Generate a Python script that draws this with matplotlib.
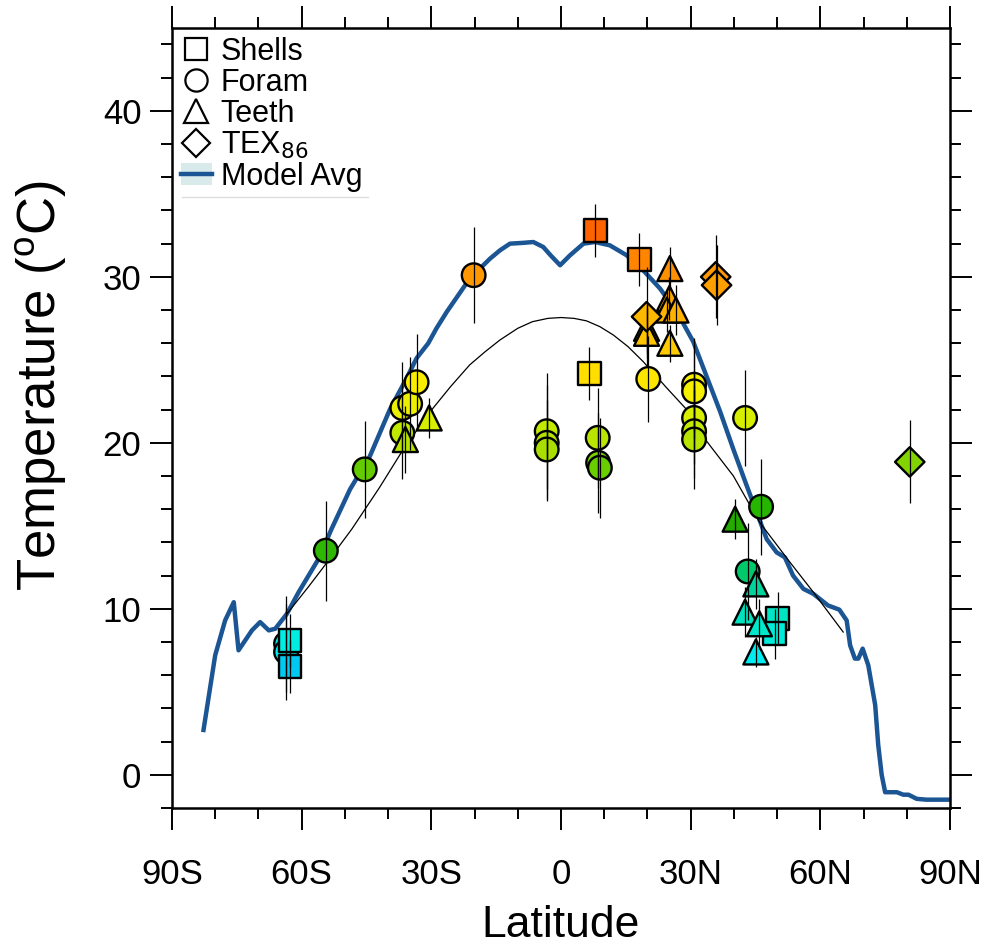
import numpy as np
import matplotlib.pyplot as plt
from matplotlib.colors import LinearSegmentedColormap, Normalize
from matplotlib.lines import Line2D
from matplotlib.patches import Patch

plt.rcParams["font.family"] = ["Liberation Sans", "DejaVu Sans"]

# zonal mean of the model ensemble
model_lat = [-82.7, -80.0, -77.7, -75.7, -74.6, -71.5, -69.6, -67.6, -66.1, -63.4,
             -60.7, -56.1, -53.1, -48.8, -44.2, -39.6, -35.7, -33.4, -30.7, -28.8,
             -26.4, -21.1, -16.4, -14.1, -11.8, -8.7, -6.4, -4.1, -2.4, -0.2,
             2.1, 5.2, 7.9, 11.3, 15.2, 19.0, 22.9, 26.8, 30.6, 33.7,
             36.8, 39.9, 43.0, 45.3, 47.6, 49.9, 51.8, 53.7, 56.1, 58.4,
             61.8, 64.4, 66.1, 66.9, 68.0, 68.8, 69.8, 71.1, 72.7, 73.4,
             74.2, 75.0, 77.7, 79.2, 80.4, 82.3, 84.6, 90.0]
model_t = [2.7, 7.2, 9.3, 10.4, 7.5, 8.7, 9.2, 8.7, 8.8, 9.7,
           11.0, 13.0, 14.8, 17.2, 19.2, 22.0, 23.9, 25.1, 26.0, 26.9,
           27.9, 29.9, 31.1, 31.6, 32.0, 32.05, 32.1, 31.8, 31.3, 30.7,
           31.3, 32.0, 32.1, 31.9, 31.3, 30.4, 29.3, 27.9, 26.1, 24.0,
           21.9, 19.6, 17.4, 15.8, 14.2, 13.4, 13.1, 12.0, 11.2, 10.9,
           10.2, 9.95, 9.3, 7.8, 7.0, 7.0, 7.6, 6.6, 4.2, 1.8,
           0.0, -1.05, -1.05, -1.2, -1.2, -1.45, -1.5, -1.5]

# smooth fit through the proxies
fit_lat = [-63.4, -58.5, -54.1, -48.4, -42.0, -36.5, -30.5, -25.5, -21.1, -17.5,
           -14.1, -10.0, -6.6, -3.0, 0.0, 3.0, 5.9, 9.0, 12.1, 15.5,
           19.0, 24.5, 29.1, 33.7, 39.9, 46.0, 53.0, 58.4, 65.3]
fit_t = [9.7, 11.3, 12.8, 14.8, 17.3, 19.6, 21.8, 23.4, 24.7, 25.5,
         26.2, 26.9, 27.3, 27.5, 27.55, 27.5, 27.35, 27.0, 26.5, 25.8,
         24.9, 23.3, 22.0, 20.1, 18.0, 15.2, 12.8, 11.0, 8.6]

shells_lat = [7.9, 18.1, 6.5, -62.7, -62.7, 50.1, 49.5]
shells_t = [32.8, 31.05, 24.2, 8.1, 6.5, 9.4, 8.5]
shells_err = [1.6, 1.6, 1.6, 1.6, 1.6, 1.6, 1.5]

foram_lat = [-63.6, -63.6, -54.4, -45.4, -36.7, -34.9, -33.4, -36.7, -20.2,
             -3.3, -3.3, -3.3, 8.5, 8.6, 9.0, 20.2,
             30.8, 30.8, 30.8, 30.8, 30.8, 42.6, 46.3, 43.2]
foram_t = [7.9, 7.4, 13.5, 18.4, 22.1, 22.35, 23.65, 20.6, 30.1,
           20.7, 20.0, 19.6, 20.3, 18.8, 18.5, 23.85,
           23.5, 23.1, 21.5, 20.7, 20.2, 21.5, 16.15, 12.25]
foram_err = [2.9, 2.9, 3.0, 2.9, 2.8, 2.8, 2.9, 2.8, 2.9,
             3.5, 3.5, 3.0, 3.0, 3.0, 3.0, 2.6,
             2.8, 2.8, 2.8, 2.8, 3.0, 2.9, 2.9, 2.9]

teeth_lat = [-36.0, -30.5, 25.2, 25.1, 24.5, 26.6, 25.2, 19.8, 19.8,
             40.3, 45.1, 42.6, 45.9, 45.1]
teeth_t = [20.2, 21.5, 30.5, 28.7, 28.0, 28.0, 26.0, 26.9, 26.6,
           15.4, 11.5, 9.8, 9.1, 7.4]
teeth_err = [2.0, 1.2, 1.3, 1.3, 1.3, 1.5, 1.1, 1.5, 1.5,
             1.2, 1.5, 1.5, 1.5, 0.9]

tex_lat = [19.8, 35.8, 36.0, 80.7]
tex_t = [27.6, 30.0, 29.5, 18.85]
tex_err = [3.0, 2.5, 2.4, 2.5]

xticks = [-90, -60, -30, 0, 30, 60, 90]
xticklabels = ["90S", "60S", "30S", "0", "30N", "60N", "90N"]

# marker fill follows the proxy temperature
anchors = [(6.5, "#00c8f0"), (7.4, "#00f0f0"), (9.0, "#00e8cc"), (11.5, "#00d49c"),
           (12.3, "#00c864"), (13.5, "#30b800"), (15.5, "#22aa00"), (16.3, "#28b800"),
           (18.4, "#66cc00"), (19.5, "#a8dc00"), (21.0, "#c8ec00"), (22.0, "#e8f000"),
           (23.5, "#f8f000"), (24.2, "#ffdd00"), (27.0, "#ffc000"), (29.5, "#ffa000"),
           (31.0, "#ff8800"), (33.0, "#ff6000")]
tmin, tmax = anchors[0][0], anchors[-1][0]
cmap = LinearSegmentedColormap.from_list(
    "proxy", [((v - tmin) / (tmax - tmin), c) for v, c in anchors])
norm = Normalize(tmin, tmax)

fig = plt.figure(figsize=(9.94, 9.49), dpi=100)
ax = fig.add_axes([0.173, 0.1486, 0.7827, 0.822])

ax.plot(model_lat, model_t, color="#1b5593", lw=3.2, zorder=2)
ax.plot(fit_lat, fit_t, color="black", lw=0.9, zorder=2)

# forams go underneath, TEX86 on top
groups = [
    (foram_lat, foram_t, foram_err, "o", 17),
    (shells_lat, shells_t, shells_err, "s", 16.5),
    (teeth_lat, teeth_t, teeth_err, "^", 18),
    (tex_lat, tex_t, tex_err, "D", 15),
]
for lat, t, err, mk, ms in groups:
    lat = np.asarray(lat)
    t = np.asarray(t)
    err = np.asarray(err)
    ax.scatter(lat, t, s=ms ** 2, marker=mk, c=cmap(norm(t)),
               edgecolors="black", linewidths=1.7, zorder=3)
    ax.vlines(lat, t - err, t + err, color="black", lw=0.9, zorder=4)

ax.set_xlim(-90, 90)
ax.set_ylim(-2, 45)
ax.set_xticks(xticks)
ax.set_xticklabels(xticklabels)
ax.set_xticks(np.arange(-90, 91, 10), minor=True)
ax.set_yticks([0, 10, 20, 30, 40])
ax.set_yticks(np.arange(-2, 45, 2), minor=True)

ax.tick_params(which="both", direction="out", top=True, right=True, width=1.4)
ax.tick_params(which="major", length=16, labelsize=25)
ax.tick_params(which="minor", length=8)
ax.tick_params(axis="x", which="major", pad=20)
ax.tick_params(axis="y", which="major", pad=6)
for sp in ax.spines.values():
    sp.set_linewidth(1.8)

ax.set_xlabel("Latitude", fontsize=32, labelpad=10)
ax.set_ylabel("Temperature ($^{\\mathregular{o}}$C)", fontsize=38)
ax.yaxis.set_label_coords(-0.132, 0.542)

hollow = dict(color="none", markerfacecolor="none", markeredgecolor="black",
              markeredgewidth=1.6)
handles = [
    Line2D([], [], marker="s", markersize=16, **hollow),
    Line2D([], [], marker="o", markersize=16, **hollow),
    Line2D([], [], marker="^", markersize=17, **hollow),
    Line2D([], [], marker="D", markersize=14, **hollow),
    (Patch(facecolor="#d8eaea", edgecolor="none"),
     Line2D([], [], color="#1b5593", lw=3.2)),
]
labels = ["Shells", "Foram", "Teeth", "TEX$_{86}$", "Model Avg"]
ax.legend(handles, labels, loc="upper left", frameon=False, fontsize=22,
          handlelength=1.0, handletextpad=0.3, labelspacing=0.03,
          borderaxespad=0.1, borderpad=0.2)
ax.plot([0.013, 0.252], [0.783, 0.783], transform=ax.transAxes,
        color="#dddddd", lw=1, zorder=1)

fig.savefig("out.png", dpi=100)
